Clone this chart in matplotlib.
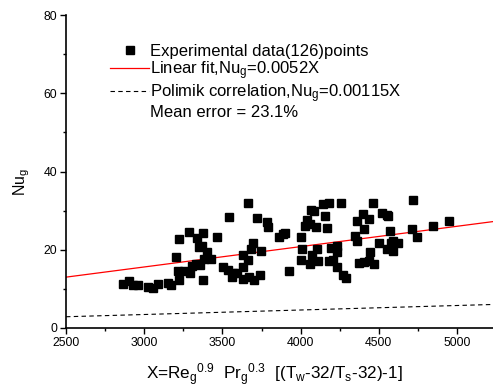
import matplotlib
matplotlib.use("Agg")
import matplotlib.pyplot as plt
import numpy as np
from matplotlib.lines import Line2D
from matplotlib.ticker import MultipleLocator

plt.rcParams['font.family'] = ['Liberation Sans', 'DejaVu Sans']
plt.rcParams['mathtext.fontset'] = 'custom'
plt.rcParams['mathtext.rm'] = 'Liberation Sans'
plt.rcParams['mathtext.it'] = 'Liberation Sans:italic'

# Experimental data (X, Nu_g)
exp_x = [2866, 2905, 2926, 2962, 3022, 3054, 3086, 3154, 3171, 3222,
         3222, 3284, 3340, 3352, 3370, 3376, 3201, 3218, 3254, 3293,
         3304, 3331, 3357, 3378, 3403, 3427, 3463, 3542, 3664, 3719,
         3787, 3791, 3864, 3885, 3902, 3698, 3681, 3630, 3666, 3745,
         3502, 3536, 3566, 3559, 3591, 3630, 3634, 3672, 3702, 3741,
         3928, 4004, 4009, 4003, 4060, 4073, 4107, 4113, 4065, 4086,
         4145, 4184, 4260, 4154, 4043, 4026, 4060, 4098, 4167, 4192,
         4235, 4231, 4205, 4184, 4235, 4269, 4290, 4348, 4359, 4359,
         4397, 4435, 4405, 4465, 4503, 4444, 4435, 4375, 4405, 4469,
         4520, 4717, 4550, 4559, 4572, 4712, 4746, 4849, 4951, 4593,
         4623, 4580, 4554, 4589, 3382]
exp_y = [11.2, 12.1, 11.0, 10.9, 10.6, 10.2, 11.2, 11.4, 11.1, 12.3,
         22.7, 24.5, 23.0, 20.6, 21.0, 24.4, 18.1, 14.6, 14.5, 14.0,
         15.8, 16.4, 16.2, 12.3, 19.3, 17.7, 23.3, 28.3, 31.9, 28.1,
         27.1, 25.9, 23.2, 23.9, 24.4, 21.8, 20.1, 18.7, 17.4, 19.8,
         15.7, 14.8, 14.0, 13.0, 14.1, 15.7, 12.6, 13.1, 12.3, 13.6,
         14.5, 23.2, 20.1, 17.4, 16.4, 18.6, 20.1, 17.0, 30.2, 30.0,
         31.7, 32.0, 32.0, 28.6, 27.6, 26.1, 26.6, 25.9, 25.6, 20.4,
         21.0, 19.4, 17.4, 17.0, 15.7, 13.6, 12.8, 23.5, 22.3, 27.3,
         29.1, 27.9, 25.4, 31.9, 21.6, 19.3, 17.2, 16.5, 16.9, 16.4,
         29.5, 32.7, 28.8, 28.5, 24.9, 25.2, 23.3, 26.1, 27.3, 22.2,
         21.6, 21.8, 20.1, 19.6, 17.6]

fit_coef = 0.0052
polimik_coef = 0.00115
x_range = [2500, 5230]

fig = plt.figure(figsize=(4.93, 3.87), dpi=100)
ax = fig.add_axes([66/493, 1-328/387, 1-66/493, (328-15)/387])

xl = np.array(x_range, dtype=float)
ax.plot(exp_x, exp_y, 's', color='black', markersize=5.1, linestyle='none',
        label='Experimental data(126)points', zorder=3)
ax.plot(xl, fit_coef*xl, color='#ff0000', lw=0.9,
        label=r'Linear fit,Nu$_\mathregular{g}$=0.0052X')
ax.plot(xl, polimik_coef*xl, color='black', lw=0.8, dashes=(4, 3),
        label=r'Polimik correlation,Nu$_\mathregular{g}$=0.00115X')

ax.set_xlim(*x_range)
ax.set_ylim(0, 80)
ax.xaxis.set_major_locator(MultipleLocator(500))
ax.xaxis.set_minor_locator(MultipleLocator(250))
ax.yaxis.set_major_locator(MultipleLocator(20))
ax.yaxis.set_minor_locator(MultipleLocator(10))
for s in ['top', 'right']:
    ax.spines[s].set_visible(False)
for s in ['left', 'bottom']:
    ax.spines[s].set_linewidth(1.2)
ax.tick_params(which='major', direction='out', length=4, width=1, labelsize=8.8, pad=2.5)
ax.tick_params(which='minor', direction='out', length=2.5, width=1)

handles, labels = ax.get_legend_handles_labels()
handles.append(Line2D([], [], linestyle='none'))
labels.append('Mean error = 23.1%')
ax.legend(handles, labels, loc='upper left', bbox_to_anchor=(110/493, 1-44/387),
          bbox_transform=fig.transFigure, frameon=False, fontsize=12,
          handlelength=2.35, handletextpad=0.05, labelspacing=0.01,
          borderpad=0, borderaxespad=0, numpoints=1)

fig.text(22/493, 1-182/387, r'Nu$_\mathregular{g}$', rotation=90,
         ha='center', va='center', fontsize=11.5)
fig.text(274/493, 1-375/387,
         r'X=Re$_\mathregular{g}$$^\mathregular{0.9}$  Pr$_\mathregular{g}$$^\mathregular{0.3}$  [(T$_\mathregular{w}$-32/T$_\mathregular{s}$-32)-1]',
         ha='center', va='center', fontsize=12.3)

fig.savefig('out.png', dpi=100)
